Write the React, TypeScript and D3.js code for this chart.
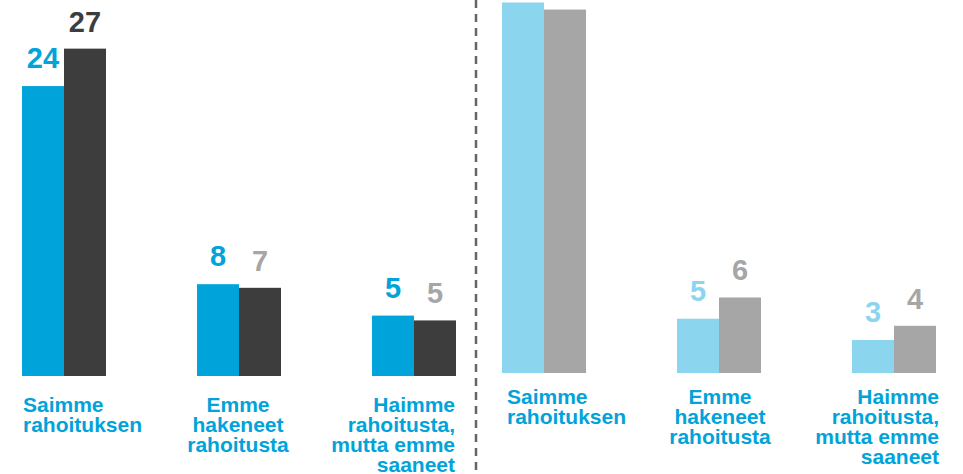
import React from "react";
import * as d3 from "d3";

// categories, shared by both panels
const categories = ["Saimme rahoituksen", "Emme hakeneet rahoitusta", "Haimme rahoitusta, mutta emme saaneet"];
const categoryLines = [
  ["Saimme", "rahoituksen"],
  ["Emme", "hakeneet", "rahoitusta"],
  ["Haimme", "rahoitusta,", "mutta emme", "saaneet"],
];

// left panel
const leftSeriesA = [24.0, 7.6, 5.0];
const leftSeriesB = [27.1, 7.3, 4.6];
const leftLabelsA = ["24", "8", "5"];
const leftLabelsB = ["27", "7", "5"];

// right panel (first group runs off the top, no labels)
const rightSeriesA = [31.4, 4.6, 2.8];
const rightSeriesB = [30.8, 6.4, 4.0];
const rightLabelsA = ["", "5", "3"];
const rightLabelsB = ["", "6", "4"];

const W = 963;
const H = 474;
const FONT = "'Liberation Sans', Arial, Helvetica, sans-serif";
const BLUE = "#00a3da";

type PanelProps = {
  x0: number;
  x1: number;
  base: number;
  pxPerUnit: number;
  a: number[];
  b: number[];
  labA: string[];
  labB: string[];
  colA: string;
  colB: string;
  labColA: string[];
  labColB: string[];
  catTop: number;
  catDx: number[];
};

const Panel = (p: PanelProps) => {
  const x = d3.scaleBand().domain(categories).range([p.x0, p.x1]).paddingInner(0.52).paddingOuter(0);
  const inner = d3.scaleBand().domain(["a", "b"]).range([0, x.bandwidth()]);
  const y = d3.scaleLinear().domain([0, 30]).range([p.base, p.base - 30 * p.pxPerUnit]);
  const bw = inner.bandwidth();

  return (
    <g>
      {categories.map((c, i) => {
        const gx = x(c)!;
        const ya = y(p.a[i]);
        const yb = y(p.b[i]);
        const anchor = i === 0 ? "start" : i === 1 ? "middle" : "end";
        const tx = (i === 0 ? gx : i === 1 ? gx + x.bandwidth() / 2 : gx + x.bandwidth()) + p.catDx[i];
        return (
          <g key={c}>
            <rect x={gx + inner("a")!} y={ya} width={bw} height={p.base - ya} fill={p.colA} />
            <rect x={gx + inner("b")!} y={yb} width={bw} height={p.base - yb} fill={p.colB} />
            <text x={gx + inner("a")! + bw / 2} y={ya - 18} textAnchor="middle" fontFamily={FONT}
              fontWeight="bold" fontSize={29} fill={p.labColA[i]}>{p.labA[i]}</text>
            <text x={gx + inner("b")! + bw / 2} y={yb - 17} textAnchor="middle" fontFamily={FONT}
              fontWeight="bold" fontSize={29} fill={p.labColB[i]}>{p.labB[i]}</text>
            <text textAnchor={anchor} fontFamily={FONT} fontWeight="bold" fontSize={21} fill={BLUE}>
              {categoryLines[i].map((l, j) => (
                <tspan key={j} x={tx} y={p.catTop + j * 20}>{l}</tspan>
              ))}
            </text>
          </g>
        );
      })}
    </g>
  );
};

export default function App() {
  return (
    <div style={{ position: "absolute", left: 0, top: 0 }}>
      <svg width={W} height={H} style={{ display: "block", background: "#fff" }}>
        <Panel x0={22} x1={456} base={376} pxPerUnit={12.08}
          a={leftSeriesA} b={leftSeriesB} labA={leftLabelsA} labB={leftLabelsB}
          colA={BLUE} colB="#3d3d3d"
          labColA={[BLUE, BLUE, BLUE]} labColB={["#3d3d3d", "#a6a6a6", "#a6a6a6"]}
          catTop={412} catDx={[1, -1, -1]} />
        <Panel x0={502} x1={936} base={373} pxPerUnit={11.8}
          a={rightSeriesA} b={rightSeriesB} labA={rightLabelsA} labB={rightLabelsB}
          colA="#8cd5ee" colB="#a6a6a6"
          labColA={["#8cd5ee", "#8cd5ee", "#8cd5ee"]} labColB={["#a6a6a6", "#a6a6a6", "#a6a6a6"]}
          catTop={404} catDx={[5, 1, 3]} />
        <line x1={476} x2={476} y1={0} y2={H} stroke="#666" strokeWidth={2.5} strokeDasharray="8,6" />
      </svg>
    </div>
  );
}
